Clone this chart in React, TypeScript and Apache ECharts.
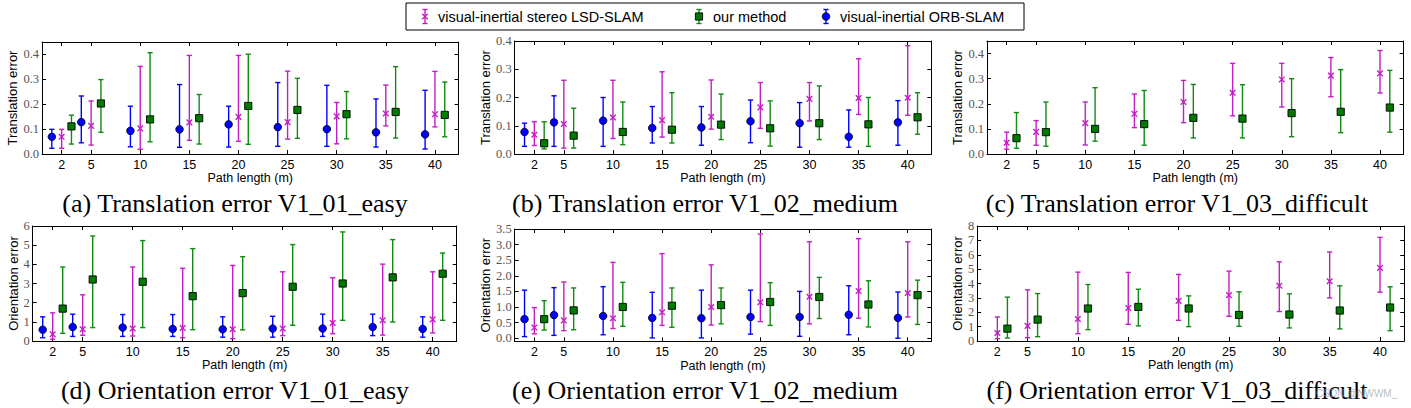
import React, { useEffect, useRef } from "react";
import * as echarts from "echarts";

// Path lengths (m) — tick positions
const xTicks = [2, 5, 10, 15, 20, 25, 30, 35, 40];

// (a) Translation error V1_01_easy
const aOrbMean = [0.069, 0.128, 0.093, 0.099, 0.119, 0.108, 0.1, 0.087, 0.079];
const aOrbLo = [0.023, 0.045, 0.029, 0.027, 0.028, 0.031, 0.031, 0.028, 0.02];
const aOrbHi = [0.099, 0.233, 0.192, 0.279, 0.192, 0.287, 0.276, 0.221, 0.256];
const aLsdMean = [0.069, 0.113, 0.103, 0.127, 0.149, 0.128, 0.151, 0.163, 0.16];
const aLsdLo = [0.023, 0.036, 0.019, 0.055, 0.051, 0.06, 0.041, 0.113, 0.109];
const aLsdHi = [0.099, 0.213, 0.352, 0.396, 0.396, 0.333, 0.207, 0.277, 0.332];
const aOursMean = [0.111, 0.203, 0.139, 0.144, 0.193, 0.177, 0.16, 0.169, 0.157];
const aOursLo = [0.04, 0.087, 0.049, 0.04, 0.039, 0.063, 0.061, 0.064, 0.069];
const aOursHi = [0.156, 0.299, 0.407, 0.239, 0.401, 0.304, 0.251, 0.351, 0.289];

// (b) Translation error V1_02_medium
const bOrbMean = [0.078, 0.112, 0.118, 0.092, 0.094, 0.116, 0.109, 0.061, 0.112];
const bOrbLo = [0.027, 0.027, 0.027, 0.039, 0.031, 0.04, 0.024, 0.024, 0.031];
const bOrbHi = [0.109, 0.206, 0.2, 0.168, 0.168, 0.191, 0.182, 0.156, 0.189];
const bLsdMean = [0.068, 0.106, 0.129, 0.12, 0.132, 0.165, 0.195, 0.198, 0.199];
const bLsdLo = [0.03, 0.021, 0.055, 0.06, 0.088, 0.091, 0.117, 0.14, 0.137];
const bLsdHi = [0.114, 0.261, 0.261, 0.291, 0.262, 0.253, 0.253, 0.337, 0.383];
const bOursMean = [0.038, 0.065, 0.078, 0.086, 0.104, 0.091, 0.109, 0.105, 0.13];
const bOursLo = [0.018, 0.021, 0.033, 0.039, 0.051, 0.028, 0.051, 0.027, 0.07];
const bOursHi = [0.114, 0.162, 0.184, 0.217, 0.212, 0.188, 0.241, 0.2, 0.217];

// (c) Translation error V1_03_difficult
const cLsdMean = [0.045, 0.088, 0.123, 0.16, 0.207, 0.244, 0.297, 0.312, 0.321];
const cLsdLo = [0.019, 0.035, 0.036, 0.105, 0.125, 0.152, 0.187, 0.228, 0.243];
const cLsdHi = [0.087, 0.133, 0.207, 0.239, 0.293, 0.361, 0.361, 0.384, 0.412];
const cOursMean = [0.063, 0.087, 0.1, 0.119, 0.144, 0.141, 0.163, 0.168, 0.185];
const cOursLo = [0.023, 0.031, 0.051, 0.035, 0.064, 0.064, 0.069, 0.085, 0.087];
const cOursHi = [0.165, 0.207, 0.264, 0.253, 0.277, 0.276, 0.3, 0.336, 0.333];

// (d) Orientation error V1_01_easy
const dOrbMean = [0.59, 0.73, 0.7, 0.63, 0.61, 0.65, 0.65, 0.73, 0.63];
const dOrbLo = [0.17, 0.24, 0.24, 0.24, 0.2, 0.2, 0.24, 0.28, 0.2];
const dOrbHi = [1.26, 1.4, 1.38, 1.38, 1.26, 1.29, 1.4, 1.4, 1.26];
const dLsdMean = [0.35, 0.61, 0.65, 0.68, 0.61, 0.65, 0.94, 1.08, 1.13];
const dLsdLo = [0.1, 0.3, 0.26, 0.17, 0.12, 0.28, 0.38, 0.31, 0.42];
const dLsdHi = [1.47, 2.41, 3.86, 3.79, 3.94, 3.61, 3.3, 4.01, 3.61];
const dOursMean = [1.69, 3.21, 3.09, 2.34, 2.5, 2.83, 3.0, 3.32, 3.51];
const dOursLo = [0.4, 0.7, 0.7, 0.59, 0.58, 0.82, 1.08, 0.99, 1.08];
const dOursHi = [3.86, 5.48, 5.24, 4.82, 4.4, 5.03, 5.69, 5.29, 4.59];

// (e) Orientation error V1_02_medium
const eOrbMean = [0.61, 0.74, 0.71, 0.65, 0.64, 0.68, 0.68, 0.75, 0.65];
const eOrbLo = [0.05, 0.09, 0.11, 0.01, 0.01, 0.13, 0.06, 0.11, 0.0];
const eOrbHi = [1.54, 1.62, 1.65, 1.47, 1.54, 1.54, 1.5, 1.68, 1.48];
const eLsdMean = [0.34, 0.57, 0.64, 0.83, 1.0, 1.15, 1.33, 1.51, 1.45];
const eLsdLo = [0.14, 0.24, 0.31, 0.41, 0.42, 0.53, 0.46, 0.64, 0.68];
const eLsdHi = [0.98, 1.8, 2.43, 2.71, 2.35, 3.34, 3.09, 3.19, 3.09];
const eOursMean = [0.61, 0.89, 1.0, 1.04, 1.06, 1.16, 1.32, 1.08, 1.38];
const eOursLo = [0.26, 0.27, 0.38, 0.35, 0.46, 0.41, 0.63, 0.36, 0.44];
const eOursHi = [1.2, 1.61, 1.79, 1.61, 1.61, 1.78, 1.95, 1.84, 1.86];

// (f) Orientation error V1_03_difficult
const fLsdMean = [0.56, 1.05, 1.53, 2.3, 2.79, 3.19, 3.84, 4.16, 5.09];
const fLsdLo = [0.16, 0.23, 0.51, 1.16, 1.44, 1.72, 2.05, 3.0, 3.4];
const fLsdHi = [1.67, 3.56, 4.79, 4.77, 4.63, 4.86, 5.51, 6.19, 7.21];
const fOursMean = [0.86, 1.49, 2.26, 2.37, 2.26, 1.81, 1.84, 2.12, 2.33];
const fOursLo = [0.21, 0.3, 0.79, 1.05, 1.0, 1.02, 0.91, 0.84, 0.72];
const fOursHi = [3.05, 3.3, 3.93, 3.6, 3.14, 3.42, 3.28, 3.84, 3.77];

// y tick values
const transTicks = [0, 0.1, 0.2, 0.3, 0.4];
const orientTicksD = [0, 1, 2, 3, 4, 5, 6];
const orientTicksE = [0, 0.5, 1, 1.5, 2, 2.5, 3, 3.5];
const orientTicksF = [0, 1, 2, 3, 4, 5, 6, 7, 8];

const captions = [
  "(a) Translation error V1_01_easy",
  "(b) Translation error V1_02_medium",
  "(c) Translation error V1_03_difficult",
  "(d) Orientation error V1_01_easy",
  "(e) Orientation error V1_02_medium",
  "(f) Orientation error V1_03_difficult",
];
const legendNames = ["visual-inertial stereo LSD-SLAM", "our method", "visual-inertial ORB-SLAM"];

const C_ORB = "#0000ff";
const C_LSD = "#c21fc2";
const C_OURS = "#118a11";
const SANS = "Liberation Sans, Arial, sans-serif";
const SERIF = "Liberation Serif, Times New Roman, serif";

type Kind = "orb" | "lsd" | "ours";

function markerShapes(kind: Kind, cx: number, cy: number, z?: number): any[] {
  const zz = z === undefined ? {} : { z };
  if (kind === "orb") {
    return [{ type: "circle", ...zz, shape: { cx, cy, r: 3.8 }, style: { fill: C_ORB, stroke: "#000", lineWidth: 0.8 } }];
  }
  if (kind === "ours") {
    const s = 3.6;
    return [{ type: "rect", ...zz, shape: { x: cx - s, y: cy - s, width: 2 * s, height: 2 * s }, style: { fill: "#007a00", stroke: "#000", lineWidth: 0.9 } }];
  }
  const d = 2.8;
  return [
    { type: "line", ...zz, shape: { x1: cx - d, y1: cy - d, x2: cx + d, y2: cy + d }, style: { stroke: C_LSD, lineWidth: 1.4 } },
    { type: "line", ...zz, shape: { x1: cx - d, y1: cy + d, x2: cx + d, y2: cy - d }, style: { stroke: C_LSD, lineWidth: 1.4 } },
  ];
}

function errorBarShapes(kind: Kind, x: number, yLo: number, yHi: number, cy: number, z?: number): any[] {
  const color = kind === "orb" ? C_ORB : kind === "lsd" ? C_LSD : C_OURS;
  const cw = 2.6;
  const ls = { stroke: color, lineWidth: 1.4 };
  const zz = z === undefined ? {} : { z };
  return [
    { type: "line", ...zz, shape: { x1: x, y1: yLo, x2: x, y2: yHi }, style: ls },
    { type: "line", ...zz, shape: { x1: x - cw, y1: yHi, x2: x + cw, y2: yHi }, style: ls },
    { type: "line", ...zz, shape: { x1: x - cw, y1: yLo, x2: x + cw, y2: yLo }, style: ls },
    ...markerShapes(kind, x, cy, z === undefined ? undefined : z + 1),
  ];
}

function makeRender(kind: Kind) {
  return (_params: any, api: any) => {
    const x = api.value(0);
    const pm = api.coord([x, api.value(1)]);
    const pl = api.coord([x, api.value(2)]);
    const ph = api.coord([x, api.value(3)]);
    return { type: "group", children: errorBarShapes(kind, pm[0], pl[1], ph[1], pm[1]) };
  };
}

function rows(offset: number, mean: number[], lo: number[], hi: number[]) {
  return xTicks.map((t, i) => [t + offset, mean[i], lo[i], hi[i]]);
}

interface Panel {
  left: number; top: number; width: number; height: number;
  yMin: number; yMax: number; yTicks: number[]; yDigits: number;
  yName: string; yNameGap: number;
  orb?: [number[], number[], number[]];
  lsd: [number[], number[], number[]];
  ours: [number[], number[], number[]];
}

const panels: Panel[] = [
  { left: 42, top: 42, width: 416.5, height: 112, yMin: 0, yMax: 0.45, yTicks: transTicks, yDigits: 1, yName: "Translation error", yNameGap: 21,
    orb: [aOrbMean, aOrbLo, aOrbHi], lsd: [aLsdMean, aLsdLo, aLsdHi], ours: [aOursMean, aOursLo, aOursHi] },
  { left: 514.7, top: 41, width: 416.6, height: 113, yMin: 0, yMax: 0.4, yTicks: transTicks, yDigits: 1, yName: "Translation error", yNameGap: 21,
    orb: [bOrbMean, bOrbLo, bOrbHi], lsd: [bLsdMean, bLsdLo, bLsdHi], ours: [bOursMean, bOursLo, bOursHi] },
  { left: 987, top: 41, width: 416.6, height: 113, yMin: 0, yMax: 0.45, yTicks: transTicks, yDigits: 1, yName: "Translation error", yNameGap: 21,
    lsd: [cLsdMean, cLsdLo, cLsdHi], ours: [cOursMean, cOursLo, cOursHi] },
  { left: 32.7, top: 226, width: 424, height: 115, yMin: 0, yMax: 6, yTicks: orientTicksD, yDigits: 0, yName: "Orientation error", yNameGap: 13,
    orb: [dOrbMean, dOrbLo, dOrbHi], lsd: [dLsdMean, dLsdLo, dLsdHi], ours: [dOursMean, dOursLo, dOursHi] },
  { left: 514.7, top: 229, width: 416.6, height: 112.3, yMin: -0.1, yMax: 3.5, yTicks: orientTicksE, yDigits: 1, yName: "Orientation error", yNameGap: 22,
    orb: [eOrbMean, eOrbLo, eOrbHi], lsd: [eLsdMean, eLsdLo, eLsdHi], ours: [eOursMean, eOursLo, eOursHi] },
  { left: 977.2, top: 226, width: 427, height: 115, yMin: 0, yMax: 8, yTicks: orientTicksF, yDigits: 0, yName: "Orientation error", yNameGap: 13,
    lsd: [fLsdMean, fLsdLo, fLsdHi], ours: [fOursMean, fOursLo, fOursHi] },
];

const captionCenters = [235, 705, 1177, 235, 705, 1177];
const captionY = [203, 203, 203, 390, 390, 390];

function buildOption() {
  const grid: any[] = [];
  const xAxis: any[] = [];
  const yAxis: any[] = [];
  const series: any[] = [];
  const axisLine = { show: true, onZero: false, lineStyle: { color: "#000", width: 1 } };
  const tickStyle = { lineStyle: { color: "#000", width: 1 } };

  panels.forEach((p, i) => {
    grid.push({ left: p.left, top: p.top, width: p.width, height: p.height, containLabel: false });
    xAxis.push({
      type: "value", gridIndex: i, position: "bottom", min: 0, max: 42.4,
      name: "Path length (m)", nameLocation: "middle", nameGap: 17,
      nameTextStyle: { fontFamily: SANS, fontSize: 12.5, color: "#000" },
      axisLine, splitLine: { show: false },
      axisTick: { show: true, inside: true, length: 4, customValues: xTicks, ...tickStyle },
      axisLabel: { show: true, margin: 4, customValues: xTicks, fontFamily: SANS, fontSize: 12.5, color: "#000" },
    });
    xAxis.push({
      type: "value", gridIndex: i, position: "top", min: 0, max: 42.4,
      axisLine, splitLine: { show: false },
      axisTick: { show: true, inside: true, length: 4, customValues: xTicks, ...tickStyle },
      axisLabel: { show: false },
    });
    const fmt = (v: number) => v.toFixed(p.yDigits);
    yAxis.push({
      type: "value", gridIndex: i, position: "left", min: p.yMin, max: p.yMax,
      name: p.yName, nameLocation: "middle", nameGap: p.yNameGap,
      nameTextStyle: { fontFamily: SANS, fontSize: 13, color: "#000" },
      axisLine, splitLine: { show: false },
      axisTick: { show: true, inside: true, length: 4, customValues: p.yTicks, ...tickStyle },
      axisLabel: { show: true, margin: 3, customValues: p.yTicks, formatter: fmt, fontFamily: SERIF, fontSize: 12.5, color: "#555" },
    });
    yAxis.push({
      type: "value", gridIndex: i, position: "right", min: p.yMin, max: p.yMax,
      axisLine, splitLine: { show: false },
      axisTick: { show: true, inside: true, length: 4, customValues: p.yTicks, ...tickStyle },
      axisLabel: { show: false },
    });
    const xi = i * 2;
    const yi = i * 2;
    if (p.orb) {
      series.push({
        type: "custom", name: legendNames[2], xAxisIndex: xi, yAxisIndex: yi,
        renderItem: makeRender("orb"), data: rows(-1, ...p.orb), encode: { x: 0, y: [1, 2, 3] }, z: 3,
      });
    }
    series.push({
      type: "custom", name: legendNames[0], xAxisIndex: xi, yAxisIndex: yi,
      renderItem: makeRender("lsd"), data: rows(0, ...p.lsd), encode: { x: 0, y: [1, 2, 3] }, z: 3,
    });
    series.push({
      type: "custom", name: legendNames[1], xAxisIndex: xi, yAxisIndex: yi,
      renderItem: makeRender("ours"), data: rows(1, ...p.ours), encode: { x: 0, y: [1, 2, 3] }, z: 3,
    });
  });

  // legend drawn as graphics
  const legendBox = { x: 406, y: 3, w: 618, h: 27 };
  const ly = legendBox.y + legendBox.h / 2;
  const legendItems: { kind: Kind; gx: number; tx: number; label: string }[] = [
    { kind: "lsd", gx: 425, tx: 438, label: legendNames[0] },
    { kind: "ours", gx: 699, tx: 713, label: legendNames[1] },
    { kind: "orb", gx: 826, tx: 840, label: legendNames[2] },
  ];
  const graphic: any[] = [
    { type: "rect", shape: { x: legendBox.x, y: legendBox.y, width: legendBox.w, height: legendBox.h }, style: { fill: "#fff", stroke: "#000", lineWidth: 1 }, z: 10 },
  ];
  legendItems.forEach((it) => {
    errorBarShapes(it.kind, it.gx, ly + 7, ly - 7, ly, 11).forEach((s) => graphic.push(s));
    graphic.push({ type: "text", x: it.tx, y: ly, z: 11, style: { text: it.label, fontFamily: SANS, fontSize: 14.5, fill: "#000", textVerticalAlign: "middle", verticalAlign: "middle" } });
  });
  captions.forEach((c, i) => {
    graphic.push({
      type: "text", x: captionCenters[i], y: captionY[i], z: 5,
      style: { text: c, fontFamily: SERIF, fontSize: 26, fill: "#000", align: "center", verticalAlign: "middle", textAlign: "center", textVerticalAlign: "middle" },
    });
  });
  graphic.push({
    type: "text", x: 1316, y: 393, z: 6,
    style: { text: "CSDN @NWWM_", fontFamily: SANS, fontSize: 10, fill: "rgba(160,160,160,0.7)", verticalAlign: "middle", textVerticalAlign: "middle" },
  });

  return { animation: false, backgroundColor: "#fff", grid, xAxis, yAxis, series, graphic };
}

export default function App() {
  const ref = useRef<HTMLDivElement>(null);
  useEffect(() => {
    if (!ref.current) return;
    const chart = echarts.init(ref.current, undefined, { renderer: "svg" });
    chart.setOption(buildOption() as any);
    return () => chart.dispose();
  }, []);
  return <div ref={ref} style={{ position: "absolute", left: 0, top: 0, width: 1411, height: 408, background: "#fff" }} />;
}
